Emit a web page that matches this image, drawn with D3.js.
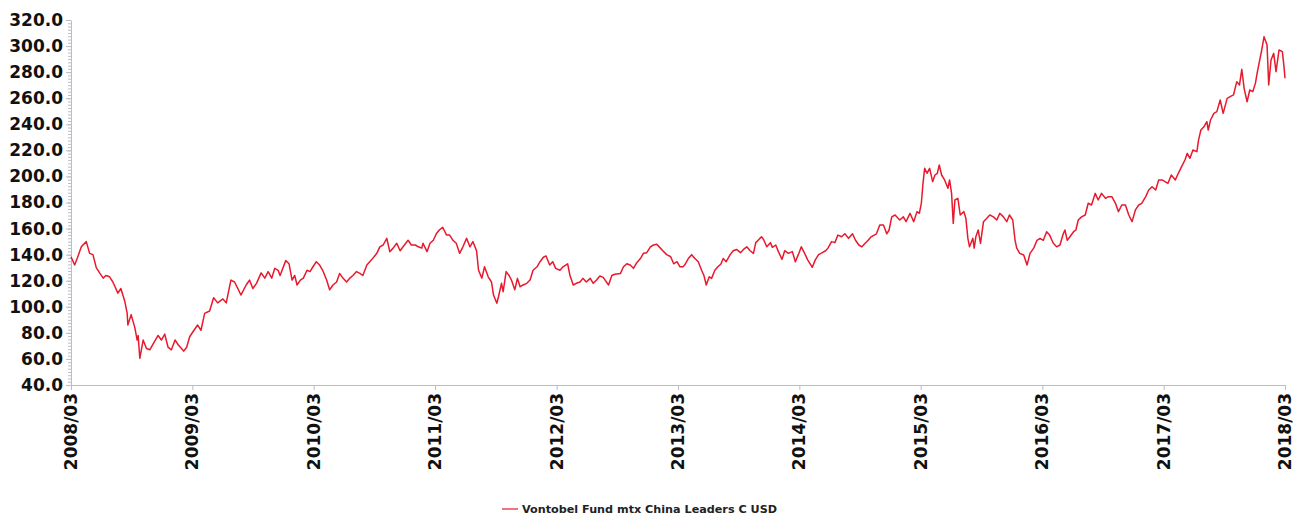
<!DOCTYPE html>
<html>
<head>
<meta charset="utf-8">
<script src="https://cdn.jsdelivr.net/npm/d3@7"></script>
<style>
  body { margin: 0; background: #fff; }
  svg { display: block; }
  .axis text { font-family: "DejaVu Sans", Verdana, sans-serif; font-weight: bold; font-size: 17px; fill: #111; }
  .axis path, .axis line { stroke: #b9bdc8; }
</style>
</head>
<body>
<script>
// values
var seriesName = 'Vontobel Fund mtx China Leaders C USD';

var dates = [
  '2008-03-01','2008-03-12','2008-03-21','2008-04-01','2008-04-16','2008-04-26','2008-05-06','2008-05-16','2008-05-26','2008-06-06',
  '2008-06-14','2008-06-25','2008-07-05','2008-07-20','2008-07-29','2008-08-10','2008-08-17','2008-08-19','2008-08-29','2008-09-09',
  '2008-09-16','2008-09-19','2008-09-24','2008-10-04','2008-10-14','2008-10-24','2008-11-04','2008-11-18','2008-11-28','2008-12-08',
  '2008-12-18','2008-12-28','2009-01-08','2009-01-18','2009-02-03','2009-02-12','2009-02-21','2009-03-06','2009-03-17','2009-03-27',
  '2009-04-07','2009-04-22','2009-05-04','2009-05-16','2009-06-01','2009-06-11','2009-06-25','2009-07-06','2009-07-16','2009-07-25',
  '2009-08-10','2009-08-20','2009-08-30','2009-09-10','2009-09-24','2009-10-05','2009-10-15','2009-10-26','2009-11-04','2009-11-14',
  '2009-11-20','2009-12-07','2009-12-17','2009-12-26','2010-01-03','2010-01-10','2010-01-20','2010-01-29','2010-02-09','2010-02-18',
  '2010-02-27','2010-03-09','2010-03-19','2010-03-28','2010-04-09','2010-04-18','2010-04-28','2010-05-09','2010-05-18','2010-05-28',
  '2010-06-08','2010-06-18','2010-06-27','2010-07-08','2010-07-18','2010-07-27','2010-08-08','2010-08-22','2010-09-07','2010-09-16',
  '2010-09-26','2010-10-07','2010-10-16','2010-10-26','2010-11-06','2010-11-16','2010-11-25','2010-12-10','2010-12-20','2011-01-01',
  '2011-01-10','2011-01-20','2011-01-24','2011-02-05','2011-02-14','2011-02-24','2011-03-05','2011-03-14','2011-03-24','2011-04-05',
  '2011-04-14','2011-04-24','2011-05-04','2011-05-14','2011-05-24','2011-06-04','2011-06-14','2011-06-23','2011-07-04','2011-07-10',
  '2011-07-20','2011-07-28','2011-08-08','2011-08-18','2011-08-24','2011-09-03','2011-09-08','2011-09-17','2011-09-22','2011-10-01',
  '2011-10-10','2011-10-17','2011-10-27','2011-11-04','2011-11-12','2011-11-21','2011-12-02','2011-12-12','2011-12-21','2012-01-02',
  '2012-01-11','2012-01-21','2012-01-29','2012-02-09','2012-02-18','2012-02-27','2012-03-11','2012-03-20','2012-04-03','2012-04-10',
  '2012-04-20','2012-04-29','2012-05-10','2012-05-19','2012-05-29','2012-06-10','2012-06-19','2012-06-29','2012-07-09','2012-07-19',
  '2012-08-04','2012-08-14','2012-08-23','2012-09-09','2012-09-18','2012-09-28','2012-10-08','2012-10-18','2012-10-28','2012-11-08',
  '2012-11-17','2012-11-27','2012-12-08','2012-12-17','2012-12-27','2013-01-07','2013-01-17','2013-01-26','2013-02-07','2013-02-16',
  '2013-02-26','2013-03-07','2013-03-16','2013-03-21','2013-04-01','2013-04-11','2013-04-21','2013-05-01','2013-05-11','2013-05-18',
  '2013-05-25','2013-06-03','2013-06-10','2013-06-20','2013-06-29','2013-07-08','2013-07-15','2013-07-24','2013-08-05','2013-08-14',
  '2013-08-24','2013-09-05','2013-09-14','2013-09-24','2013-10-04','2013-10-14','2013-10-21','2013-10-28','2013-11-07','2013-11-13',
  '2013-11-23','2013-12-04','2013-12-10','2013-12-20','2013-12-28','2014-01-08','2014-01-16','2014-01-27','2014-02-08','2014-02-17',
  '2014-02-26','2014-03-07','2014-03-17','2014-03-26','2014-04-09','2014-04-18','2014-04-28','2014-05-09','2014-05-19','2014-05-26',
  '2014-06-06','2014-06-16','2014-06-25','2014-07-06','2014-07-16','2014-07-27','2014-08-08','2014-08-17','2014-08-27','2014-09-05',
  '2014-09-15','2014-09-24','2014-10-03','2014-10-12','2014-10-19','2014-10-29','2014-11-09','2014-11-19','2014-11-26','2014-12-04',
  '2014-12-14','2014-12-28','2015-01-08','2015-01-16','2015-01-28','2015-02-08','2015-02-18','2015-02-25','2015-03-03','2015-03-08',
  '2015-03-13','2015-03-20','2015-03-28','2015-04-06','2015-04-13','2015-04-20','2015-04-26','2015-05-03','2015-05-12','2015-05-22',
  '2015-05-27','2015-06-02','2015-06-07','2015-06-12','2015-06-21','2015-06-28','2015-07-09','2015-07-15','2015-07-21','2015-07-26',
  '2015-08-05','2015-08-09','2015-08-14','2015-08-21','2015-08-28','2015-09-06','2015-09-16','2015-09-25','2015-10-06','2015-10-16',
  '2015-10-25','2015-11-05','2015-11-15','2015-11-23','2015-12-03','2015-12-10','2015-12-15','2015-12-24','2016-01-05','2016-01-15',
  '2016-01-24','2016-02-04','2016-02-14','2016-02-23','2016-03-04','2016-03-14','2016-03-23','2016-04-03','2016-04-13','2016-04-23',
  '2016-05-03','2016-05-08','2016-05-15','2016-05-23','2016-06-03','2016-06-10','2016-06-17','2016-06-27','2016-07-08','2016-07-17',
  '2016-07-27','2016-08-07','2016-08-16','2016-08-26','2016-09-07','2016-09-16','2016-09-26','2016-10-07','2016-10-16','2016-10-26',
  '2016-11-06','2016-11-16','2016-11-26','2016-12-06','2016-12-16','2016-12-25','2017-01-06','2017-01-15','2017-01-25','2017-02-05',
  '2017-02-14','2017-02-24','2017-03-05','2017-03-14','2017-03-24','2017-04-05','2017-04-14','2017-04-24','2017-05-04','2017-05-11',
  '2017-05-19','2017-05-28','2017-06-09','2017-06-14','2017-06-21','2017-06-30','2017-07-09','2017-07-13','2017-07-20','2017-07-30',
  '2017-08-08','2017-08-18','2017-08-27','2017-09-08','2017-09-17','2017-09-27','2017-10-07','2017-10-15','2017-10-22','2017-10-29',
  '2017-11-07','2017-11-15','2017-11-24','2017-12-02','2017-12-07','2017-12-14','2017-12-21','2017-12-28','2018-01-06','2018-01-11',
  '2018-01-18','2018-01-26','2018-02-02','2018-02-11','2018-02-21','2018-02-26','2018-03-01'
];

var values = [
  138.4,132,138,146,150,141,140,130,126,122,
  124,123,119,110.5,114,104,95,86,94,84,
  74.5,78,60.5,74.5,68,67,72,78,74.5,79,
  69,67,74.5,70.7,66,69,77,82,86,82,
  95,96.8,107,103,106,103,120.5,119,114,109,
  116.7,120.5,114,118,126,122,127,122,129.5,128,
  124,135.4,133,120.5,124,116.7,120.5,122,128,127,
  130.7,134.6,132,128,120.5,113,116.7,119,125.6,122,
  119,122,124,127,125.6,124,132,136,141,146,
  147.4,152.5,142.3,145,148.7,143,146,151,147.4,147.4,
  146,145,148.7,142.3,148.7,151,156,158.9,161,155,
  155,151,148.7,141,146,152.5,146,150,143,128,
  122,130.7,123,119,109,102.7,107.7,118,111.6,127,
  124,120.5,113,121.8,115.4,116.7,118,120.5,128,130.7,
  134.6,138,139,132,134.6,129.5,128,130.7,133,124,
  116.7,118,119,121.8,119,121.8,118,120.5,123.6,122.6,
  116.7,124,125,125.6,130.7,133,132,129.5,133.8,137,
  141,141.5,146,147.4,148,145,142.3,140,138.4,133,
  134.6,130.7,130.7,132,137,140,137,134.6,128,124,
  116.7,123,121.8,128,130.7,132.8,137,134.6,140,143,
  144,141.5,144,146,143,141,149.2,151,153.7,151.8,
  146,149.2,145.6,147.4,142.3,136.4,143,141,142.3,134.6,
  140,146,141,136,130.3,136,140,141.5,143,145,
  150,149.2,155,153.7,156,152.5,156,151,147.4,146,
  148.7,151,153.7,155,156,162.7,162.7,156,158.9,169,
  170.4,166.6,169,165.3,171.7,165.3,173,171.7,179.4,194.7,
  206.2,202.4,206.2,196,201.1,202.4,208.8,201.1,197.3,190.9,
  197.3,187,164,181.9,183.2,170.4,173,167.9,152.5,146,
  152.5,145,153.7,158.9,148.7,165.3,167.9,170.4,169,166.6,
  171.7,169,165.3,170.4,166.6,151,145,141,139.7,132,
  141,145,151,152.5,151,157.6,155,148.7,146,147.4,
  156,158.9,151,153.7,157.6,158.9,166.6,169,170.4,179.4,
  178.1,187,181.9,187,183.2,184.5,184.5,179.4,173,178.1,
  178.1,170.4,165.3,174.3,178.1,179.4,184.5,189.6,192.1,189.6,
  197.3,197.3,196,194.7,201.1,197.3,202.4,207.5,212.6,217.7,
  213.9,220.3,219,228,235.6,238.1,242,235.6,243.3,248.4,
  249.7,258.6,248.4,259.9,261.2,262.5,272.7,270.1,282.2,267.6,
  257.3,266.3,265,271.4,279.1,288,297,307.2,300.8,270.1,
  289.3,294.4,280.4,297,295.7,284.2,275.3
];

var yTicks = [40, 60, 80, 100, 120, 140, 160, 180, 200, 220, 240, 260, 280, 300, 320];
var xTickLabels = ['2008/03','2009/03','2010/03','2011/03','2012/03','2013/03','2014/03','2015/03','2016/03','2017/03','2018/03'];

var width = 1293, height = 517;
var margin = { top: 20, right: 8, bottom: 132, left: 71 };

var parseDate = d3.timeParse('%Y-%m-%d');
var parseTick = d3.timeParse('%Y/%m');

var data = dates.map(function(d, i) {
  return { date: parseDate(d), value: values[i] };
});

var svg = d3.select('body').append('svg')
  .attr('width', width)
  .attr('height', height);

var x = d3.scaleTime()
  .domain([parseTick('2008/03'), parseTick('2018/03')])
  .range([margin.left, width - margin.right]);

var y = d3.scaleLinear()
  .domain([40, 320])
  .range([height - margin.bottom, margin.top]);

// minor y ticks
svg.append('g')
  .attr('class', 'axis')
  .attr('transform', 'translate(' + margin.left + ',0)')
  .call(d3.axisLeft(y).tickValues(d3.range(40, 320.1, 2.5)).tickSize(3).tickFormat(''))
  .call(function(g) { g.select('.domain').remove(); });

// y axis
svg.append('g')
  .attr('class', 'axis')
  .attr('transform', 'translate(' + margin.left + ',0)')
  .call(d3.axisLeft(y).tickValues(yTicks).tickSize(5).tickSizeOuter(0).tickPadding(3).tickFormat(d3.format('.1f')));

// x axis
svg.append('g')
  .attr('class', 'axis')
  .attr('transform', 'translate(0,' + (height - margin.bottom) + ')')
  .call(d3.axisBottom(x)
    .tickValues(xTickLabels.map(parseTick))
    .tickSize(5)
    .tickSizeOuter(0)
    .tickFormat(d3.timeFormat('%Y/%m')))
  .selectAll('text')
    .attr('transform', 'rotate(-90)')
    .attr('x', -8)
    .attr('y', 0)
    .attr('dy', '0.33em')
    .style('text-anchor', 'end');

var line = d3.line()
  .x(function(d) { return x(d.date); })
  .y(function(d) { return y(d.value); });

svg.append('path')
  .datum(data)
  .attr('fill', 'none')
  .attr('stroke', '#e8192c')
  .attr('stroke-width', 1.5)
  .attr('stroke-linejoin', 'round')
  .attr('d', line);

// legend
var legend = svg.append('g').attr('transform', 'translate(502,509)');
legend.append('line')
  .attr('x1', 0).attr('x2', 16)
  .attr('stroke', '#e8192c')
  .attr('stroke-width', 1.2);
legend.append('text')
  .attr('x', 20)
  .attr('dy', '0.35em')
  .style('font-family', '"DejaVu Sans", Verdana, sans-serif')
  .style('font-weight', 'bold')
  .style('font-size', '11.2px')
  .style('fill', '#222')
  .text(seriesName);
</script>
</body>
</html>
